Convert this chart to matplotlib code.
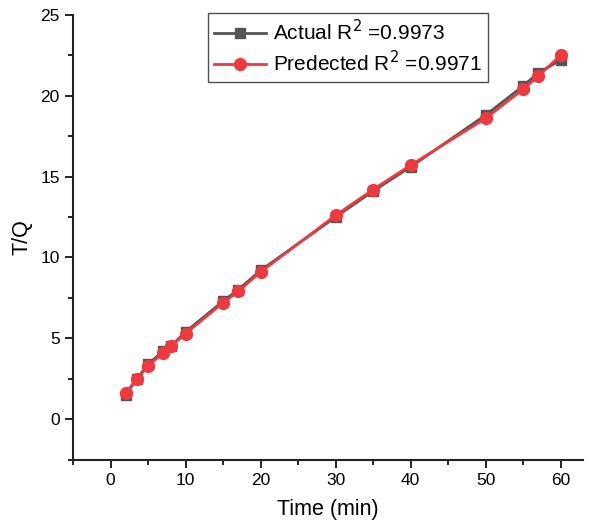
import numpy as np
import matplotlib.pyplot as plt
from matplotlib.ticker import MultipleLocator

plt.rcParams['font.family'] = ['Liberation Sans', 'DejaVu Sans']

# time points (min)
time = [2, 3.5, 5, 7, 8, 10, 15, 17, 20, 30, 35, 40, 50, 55, 57, 60]
# T/Q values
actual = [1.5, 2.5, 3.4, 4.2, 4.5, 5.4, 7.3, 8.0, 9.2, 12.5, 14.1, 15.6, 18.8, 20.6, 21.4, 22.2]
predicted = [1.6, 2.5, 3.3, 4.1, 4.5, 5.3, 7.2, 7.9, 9.1, 12.6, 14.2, 15.7, 18.6, 20.4, 21.2, 22.5]

fig = plt.figure(figsize=(5.89, 5.29), dpi=100)
ax = fig.add_axes([0.124, 0.131, 0.866, 0.841])

ax.plot(time, actual, color='#555555', lw=2, marker='s', ms=7,
        label='Actual R$^2$ =0.9973')
ax.plot(time, predicted, color='#f0383f', lw=2, marker='o', ms=8.5,
        label='Predected R$^2$ =0.9971')

ax.set_xlim(-5, 63)
ax.set_ylim(-2.5, 25)
ax.xaxis.set_major_locator(MultipleLocator(10))
ax.xaxis.set_minor_locator(MultipleLocator(5))
ax.yaxis.set_major_locator(MultipleLocator(5))
ax.yaxis.set_minor_locator(MultipleLocator(2.5))

for s in ['top', 'right']:
    ax.spines[s].set_visible(False)
for s in ['left', 'bottom']:
    ax.spines[s].set_linewidth(1.5)
    ax.spines[s].set_color('#222222')
ax.tick_params(which='major', direction='out', length=6, width=1.2, labelsize=12.5)
ax.tick_params(which='minor', direction='out', length=3.5, width=1.2)

ax.set_xlabel('Time (min)', fontsize=15.5, labelpad=8)
ax.set_ylabel('T/Q', fontsize=15.5, labelpad=6)

leg = ax.legend(loc='upper left', bbox_to_anchor=(0.353, 0.976), bbox_transform=fig.transFigure,
                fontsize=15, frameon=True, fancybox=False, edgecolor='#222222',
                borderpad=0.3, handlelength=2.5, handletextpad=0.3, labelspacing=0.3,
                borderaxespad=0)
leg.get_frame().set_linewidth(1.0)

fig.savefig('out.png', dpi=100)
